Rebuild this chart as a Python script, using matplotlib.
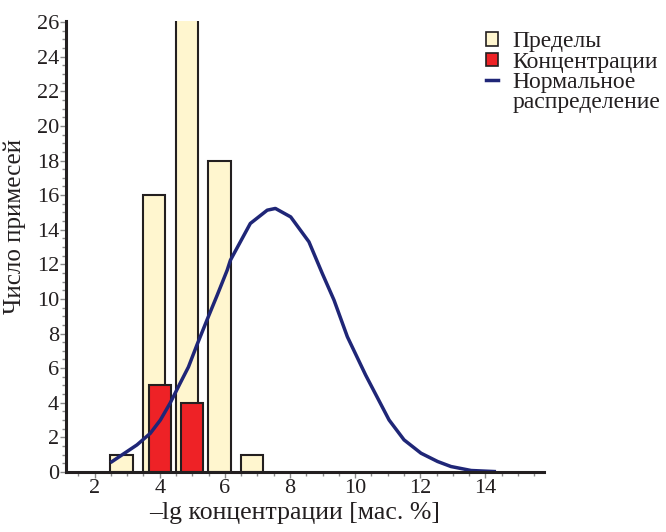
import matplotlib
matplotlib.use('Agg')
import matplotlib.pyplot as plt
from matplotlib.patches import Patch
from matplotlib.lines import Line2D
from matplotlib.ticker import MultipleLocator

plt.rcParams['font.family'] = ['Liberation Serif', 'DejaVu Serif']

# bins of -lg concentration
bins = [3, 4, 5, 6, 7]
limits = [1, 16, 27, 18, 1]        # Пределы (bar at 5 is cut off by the axis)
conc_bins = [4, 5]
conc = [5, 4]                      # Концентрации

# normal distribution curve
curve_x = [2.53, 3.30, 3.71, 4.02, 4.32, 4.63, 4.88, 5.14, 5.45, 5.76, 6.07,
           6.17, 6.78, 7.30, 7.55, 8.02, 8.58, 8.99, 9.35, 9.76, 10.32,
           11.04, 11.50, 12.02, 12.53, 12.94, 13.56, 14.27]
curve_y = [0.59, 1.56, 2.23, 3.00, 3.98, 5.14, 6.06, 7.33, 8.78, 10.2, 11.66,
           12.24, 14.36, 15.13, 15.23, 14.74, 13.3, 11.47, 9.93, 7.81, 5.6,
           3.0, 1.85, 1.08, 0.6, 0.31, 0.08, 0.02]

yellow = '#FFF6CF'
red = '#EE2226'
navy = '#1F2677'
edge = '#231F20'

fig = plt.figure(figsize=(6.66, 5.32), dpi=100)
ax = fig.add_axes([0.099, 0.113, 0.718, 0.847])

ax.bar([b - 0.17 for b in bins], limits, width=0.69, color=yellow,
       edgecolor=edge, linewidth=1.5, zorder=2)
ax.bar(conc_bins, conc, width=0.68, color=red, edgecolor=edge,
       linewidth=1.5, zorder=3)
ax.plot(curve_x, curve_y, color=navy, linewidth=2.5, zorder=4)

ax.set_xlim(1.12, 15.8)
ax.set_ylim(0, 26.05)
ax.xaxis.set_major_locator(MultipleLocator(2))
ax.xaxis.set_minor_locator(MultipleLocator(0.5))
ax.yaxis.set_major_locator(MultipleLocator(2))
ax.yaxis.set_minor_locator(MultipleLocator(0.5))
ax.set_xticks(range(2, 15, 2))

for s in ['top', 'right']:
    ax.spines[s].set_visible(False)
for s in ['left', 'bottom']:
    ax.spines[s].set_linewidth(2.2)
    ax.spines[s].set_color(edge)
    ax.spines[s].set_zorder(5)

ax.tick_params(which='both', direction='out', color='#8a8a8a', width=1)
ax.tick_params(which='major', length=4, labelsize=16, pad=1, labelcolor=edge)
ax.tick_params(which='minor', length=3)

ax.set_xlabel('\u2013lg концентрации [мас. %]', fontsize=18.5, color=edge, labelpad=3)
ax.set_ylabel('Число примесей', fontsize=18, color=edge, labelpad=8)
ax.xaxis.label.set_x(0.479)
ax.yaxis.label.set_y(0.544)

handles = [Patch(facecolor=yellow, edgecolor=edge, linewidth=1.2),
           Patch(facecolor=red, edgecolor=edge, linewidth=1.2),
           Line2D([], [], color=navy, linewidth=2.5),
           Line2D([], [], alpha=0)]
labels = ['Пределы', 'Концентрации', 'Нормальное', 'распределение']
leg = fig.legend(handles, labels, loc='upper left',
                 bbox_to_anchor=(0.730, 0.941), frameon=False, fontsize=17,
                 handlelength=0.5, handleheight=0.5, handletextpad=0.6,
                 labelspacing=-0.03, borderpad=0, borderaxespad=0)
for t in leg.get_texts():
    t.set_color(edge)

fig.savefig('out.png', dpi=100)
